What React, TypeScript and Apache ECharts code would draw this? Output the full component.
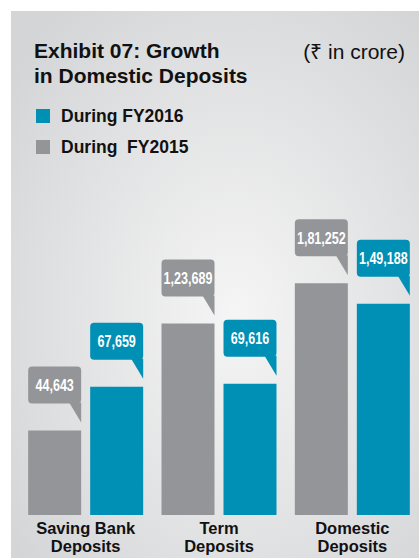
import React, { useEffect, useRef } from 'react';
import * as echarts from 'echarts';

const categories = ['Saving Bank\nDeposits', 'Term\nDeposits', 'Domestic\nDeposits'];
const seriesNames = ['During  FY2015', 'During FY2016'];
const fy2015 = [44643, 123689, 181252];
const fy2016 = [67659, 69616, 149188];
const legendOrder = ['During FY2016', 'During  FY2015'];
const titleLines = ['Exhibit 07: Growth', 'in Domestic Deposits'];
const unitText = '(\u20B9 in crore)';

const GRAY = '#939598';
const BLUE = '#0090b5';
const SANS = "'Liberation Sans', Arial, Helvetica, sans-serif";
const BAR_W = 53;
const BAR_GAP_PX = 9;

function fmtIN(v: number): string {
  const s = String(Math.round(v));
  if (s.length <= 3) return s;
  const last3 = s.slice(-3);
  let rest = s.slice(0, -3);
  const parts: string[] = [];
  while (rest.length > 2) {
    parts.unshift(rest.slice(-2));
    rest = rest.slice(0, -2);
  }
  if (rest) parts.unshift(rest);
  return parts.join(',') + ',' + last3;
}

function makeBubble(offset: number, color: string) {
  return (_params: any, api: any) => {
    const cat = api.value(0);
    const val = api.value(1);
    const pt = api.coord([cat, val]);
    const cx = pt[0] + offset;
    const yTop = pt[1];
    const xl = cx - BAR_W / 2;
    const xr = cx + BAR_W / 2;
    const tip = yTop - 8;
    const boxB = yTop - 27;
    const boxT = yTop - 64;
    return {
      type: 'group',
      children: [
        { type: 'rect', shape: { x: xl, y: boxT, width: BAR_W, height: boxB - boxT, r: 4 }, style: { fill: color } },
        { type: 'polygon', shape: { points: [[xr - 12, boxB - 1], [xr, boxB - 1], [xr, tip]] }, style: { fill: color } },
        {
          type: 'text',
          x: cx,
          y: (boxT + boxB) / 2 + 0.5,
          scaleX: 0.76,
          style: {
            text: fmtIN(val),
            fill: '#ffffff',
            font: `bold 16.5px ${SANS}`,
            textAlign: 'center',
            textVerticalAlign: 'middle',
            align: 'center',
            verticalAlign: 'middle',
          },
        },
      ],
    };
  };
}

export default function App() {
  const ref = useRef<HTMLDivElement>(null);
  useEffect(() => {
    if (!ref.current) return;
    const chart = echarts.init(ref.current, undefined, { renderer: 'svg' });
    const off = (BAR_W + BAR_GAP_PX) / 2;
    chart.setOption({
      animation: false,
      graphic: [
        {
          type: 'rect',
          z: -10,
          silent: true,
          shape: { x: 11, y: 11, width: 408, height: 547 },
          style: {
            fill: new echarts.graphic.RadialGradient(0.55, 0.55, 0.7, [
              { offset: 0, color: '#f5f5f5' },
              { offset: 1, color: '#d4d5d7' },
            ]),
          },
        },
        {
          type: 'text', z: 10, x: 34, y: 50,
          style: { text: titleLines[0], font: `bold 21px ${SANS}`, fill: '#111111', textVerticalAlign: 'middle', verticalAlign: 'middle' },
        },
        {
          type: 'text', z: 10, x: 34, y: 75.5,
          style: { text: titleLines[1], font: `bold 21px ${SANS}`, fill: '#111111', textVerticalAlign: 'middle', verticalAlign: 'middle' },
        },
        {
          type: 'text', z: 10, x: 405, y: 51,
          style: { text: unitText, font: `21px ${SANS}`, fill: '#111111', textAlign: 'right', align: 'right', textVerticalAlign: 'middle', verticalAlign: 'middle' },
        },
      ],
      legend: {
        data: legendOrder,
        orient: 'vertical',
        left: 36,
        top: 102,
        padding: 0,
        icon: 'rect',
        itemWidth: 14,
        itemHeight: 14,
        itemGap: 3,
        selectedMode: false,
        textStyle: {
          fontFamily: SANS,
          fontWeight: 'bold',
          fontSize: 17.5,
          color: '#111111',
          lineHeight: 20,
          padding: [8, 0, 0, 6],
        },
      },
      grid: { left: 19, right: 0, top: 200, bottom: 43 },
      xAxis: {
        type: 'category',
        data: categories,
        axisLine: { show: false },
        axisTick: { show: false },
        axisLabel: {
          fontFamily: SANS,
          fontWeight: 'bold',
          fontSize: 16.5,
          color: '#111111',
          lineHeight: 18,
          margin: 4,
          interval: 0,
        },
      },
      yAxis: {
        type: 'log',
        logBase: 10,
        min: 20000,
        max: 400000,
        startValue: 20000,
        show: false,
        splitLine: { show: false },
      },
      series: [
        {
          name: seriesNames[0],
          type: 'bar',
          data: fy2015,
          barWidth: BAR_W,
          barGap: `${(BAR_GAP_PX / BAR_W) * 100}%`,
          clip: true,
          itemStyle: { color: GRAY },
        },
        {
          name: seriesNames[1],
          type: 'bar',
          data: fy2016,
          barWidth: BAR_W,
          barGap: `${(BAR_GAP_PX / BAR_W) * 100}%`,
          clip: true,
          itemStyle: { color: BLUE },
        },
        {
          name: 'labels2015',
          type: 'custom',
          z: 5,
          data: fy2015.map((v, i) => [i, v]),
          encode: { x: 0, y: 1 },
          renderItem: makeBubble(-off, GRAY),
        },
        {
          name: 'labels2016',
          type: 'custom',
          z: 5,
          data: fy2016.map((v, i) => [i, v]),
          encode: { x: 0, y: 1 },
          renderItem: makeBubble(off, BLUE),
        },
      ],
    });
    return () => chart.dispose();
  }, []);
  return <div ref={ref} style={{ position: 'absolute', left: 0, top: 0, width: 419, height: 558 }} />;
}
